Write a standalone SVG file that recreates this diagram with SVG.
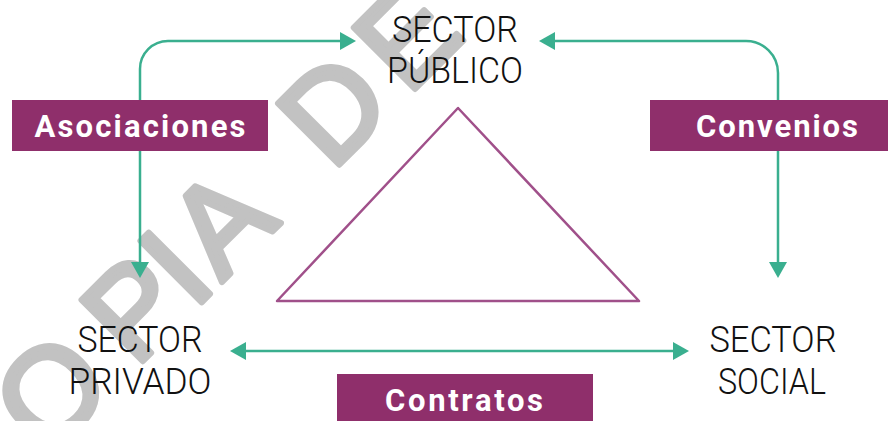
<svg xmlns="http://www.w3.org/2000/svg" width="888" height="421" viewBox="0 0 888 421">
<defs>
<style>
.wm{font-family:"Liberation Sans",Arial,sans-serif;font-size:126px;fill:#c2c2c2;stroke:#c2c2c2;stroke-width:6;stroke-linejoin:round}
.node{font-family:"Roboto Light","DejaVu Sans ExtraLight",Roboto,"Liberation Sans",sans-serif;font-weight:300;font-size:36px;fill:#111111;text-anchor:middle}
.lbox{fill:#8f2f6b}
.ltxt{font-family:Roboto,"Liberation Sans",sans-serif;font-weight:bold;font-size:31px;fill:#ffffff;text-anchor:middle}
.conn{fill:none;stroke:#3aaf8f;stroke-width:2.5;marker-start:url(#ah);marker-end:url(#ah)}
.tri{fill:none;stroke:#a0508a;stroke-width:2.5;stroke-linejoin:round}
</style>
<marker id="ah" markerUnits="userSpaceOnUse" markerWidth="16" markerHeight="18" refX="12" refY="9" orient="auto-start-reverse">
<path d="M0,0 L16,9 L0,18 Z" fill="#3aaf8f"/>
</marker>
</defs>
<rect width="888" height="421" fill="#ffffff"/>
<g id="watermark" transform="translate(337,167) rotate(-45)">
<text class="wm" x="-410 -285 -203 -163 -80 -7 100" y="0">OPIA DE</text>
</g>
<g id="triangle">
<path class="tri" d="M458,108 L639,301 L277,301 Z"/>
</g>
<g id="connectors">
<path class="conn" d="M352,41 H168 A28,28 0 0 0 140,69 V274"/>
<path class="conn" d="M543,41 H746 A32,32 0 0 1 778,73 V274"/>
<path class="conn" d="M234,351 H685"/>
</g>
<g id="node-publico">
<text class="node" x="455" y="41.5" textLength="126" lengthAdjust="spacingAndGlyphs">SECTOR</text>
<text class="node" x="455" y="83" textLength="136" lengthAdjust="spacingAndGlyphs">PÚBLICO</text>
</g>
<g id="node-privado">
<text class="node" x="140" y="351.5" textLength="125" lengthAdjust="spacingAndGlyphs">SECTOR</text>
<text class="node" x="140" y="394" textLength="143" lengthAdjust="spacingAndGlyphs">PRIVADO</text>
</g>
<g id="node-social">
<text class="node" x="773" y="351.5" textLength="127" lengthAdjust="spacingAndGlyphs">SECTOR</text>
<text class="node" x="772" y="393.5" textLength="108" lengthAdjust="spacingAndGlyphs">SOCIAL</text>
</g>
<g id="label-asociaciones">
<rect class="lbox" x="12" y="100" width="256" height="51"/>
<text class="ltxt" x="140" y="136.5" textLength="211">Asociaciones</text>
</g>
<g id="label-convenios">
<rect class="lbox" x="650" y="100" width="238" height="51"/>
<text class="ltxt" x="777" y="136.5" textLength="162">Convenios</text>
</g>
<g id="label-contratos">
<rect class="lbox" x="337" y="374" width="256" height="47"/>
<text class="ltxt" x="464" y="410.5" textLength="158">Contratos</text>
</g>
</svg>
